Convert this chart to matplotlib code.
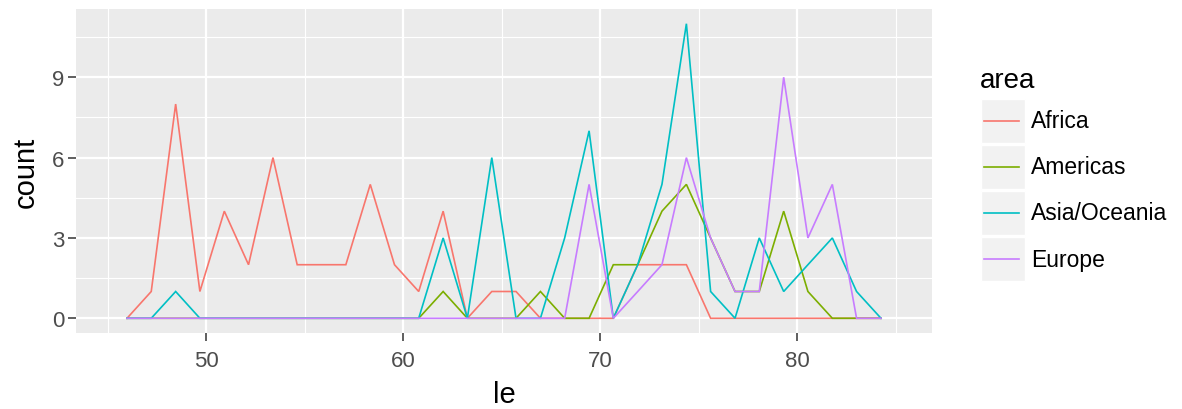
import matplotlib
matplotlib.use("Agg")
import matplotlib.pyplot as plt
from matplotlib.lines import Line2D
from matplotlib.patches import Rectangle

plt.rcParams['font.family'] = ['Liberation Sans', 'DejaVu Sans']

# bin centres of the frequency polygon (life expectancy, "le")
le = [45.98, 47.21, 48.45, 49.68, 50.92, 52.15, 53.39, 54.62, 55.86, 57.09,
      58.33, 59.56, 60.79, 62.03, 63.26, 64.50, 65.73, 66.97, 68.20, 69.44,
      70.67, 71.91, 73.14, 74.38, 75.61, 76.85, 78.08, 79.32, 80.55, 81.79,
      83.02, 84.26]

areas = ["Africa", "Americas", "Asia/Oceania", "Europe"]

africa   = [0, 1, 8, 1, 4, 2, 6, 2, 2, 2, 5, 2, 1, 4, 0, 1, 1, 0, 0, 0, 0, 2, 2, 2, 0, 0, 0, 0, 0, 0, 0, 0]
americas = [0, 0, 0, 0, 0, 0, 0, 0, 0, 0, 0, 0, 0, 1, 0, 0, 0, 1, 0, 0, 2, 2, 4, 5, 3, 1, 1, 4, 1, 0, 0, 0]
asia     = [0, 0, 1, 0, 0, 0, 0, 0, 0, 0, 0, 0, 0, 3, 0, 6, 0, 0, 3, 7, 0, 2, 5, 11, 1, 0, 3, 1, 2, 3, 1, 0]
europe   = [0, 0, 0, 0, 0, 0, 0, 0, 0, 0, 0, 0, 0, 0, 0, 0, 0, 0, 0, 5, 0, 1, 2, 6, 3, 1, 1, 9, 3, 5, 0, 0]

colors = ["#F8766D", "#7CAE00", "#00BFC4", "#C77CFF"]

x_ticks = [50, 60, 70, 80]
x_minor = [45, 55, 65, 75, 85]
y_ticks = [0, 3, 6, 9]
y_minor = [1.5, 4.5, 7.5, 10.5]

W, H = 1182, 410
fig = plt.figure(figsize=(W / 100, H / 100), dpi=100)
fig.patch.set_facecolor("white")

px_l, px_r, px_t, px_b = 76, 932, 10, 334
ax = fig.add_axes([px_l / W, 1 - px_b / H, (px_r - px_l) / W, (px_b - px_t) / H])
ax.set_facecolor("#EBEBEB")
for s in ax.spines.values():
    s.set_visible(False)

ax.set_xlim(43.39, 86.85)
ax.set_ylim(-0.55, 11.55)

for v in x_minor:
    ax.axvline(v, color="white", lw=0.8, zorder=0.5)
for v in y_minor:
    ax.axhline(v, color="white", lw=0.8, zorder=0.5)
for v in x_ticks:
    ax.axvline(v, color="white", lw=1.6, zorder=0.6)
for v in y_ticks:
    ax.axhline(v, color="white", lw=1.6, zorder=0.6)

series = [africa, americas, asia, europe]
for name, vals, c in zip(areas, series, colors):
    ax.plot(le, vals, color=c, lw=1.2, zorder=2, solid_joinstyle="miter")

ax.set_xticks(x_ticks)
ax.set_yticks(y_ticks)
ax.tick_params(axis="both", length=5.5, width=1.1, color="#333333",
               labelcolor="#4D4D4D", labelsize=16, pad=3)
ax.tick_params(axis="x", pad=6.5)

ax.set_xlabel("le", fontsize=21, color="black", labelpad=7)
ax.set_ylabel("count", fontsize=21, color="black", labelpad=9)

# legend drawn manually, ggplot style
fig.text(980 / W, 1 - 81 / H, "area", fontsize=20, ha="left", va="center", color="black")
key_rows = [122, 168, 214, 260]
for (name, c, yc) in zip(areas, colors, key_rows):
    fig.patches.append(Rectangle((981 / W, 1 - (yc + 22) / H), 44 / W, 44 / H,
                                 transform=fig.transFigure, facecolor="#F2F2F2",
                                 edgecolor="white", lw=1.0))
    fig.lines.append(Line2D([984 / W, 1019 / W], [1 - yc / H, 1 - yc / H],
                            transform=fig.transFigure, color=c, lw=1.2))
    fig.text(1031 / W, 1 - yc / H, name, fontsize=16.5, ha="left", va="center",
             color="black")

fig.savefig("out.png", dpi=100)
